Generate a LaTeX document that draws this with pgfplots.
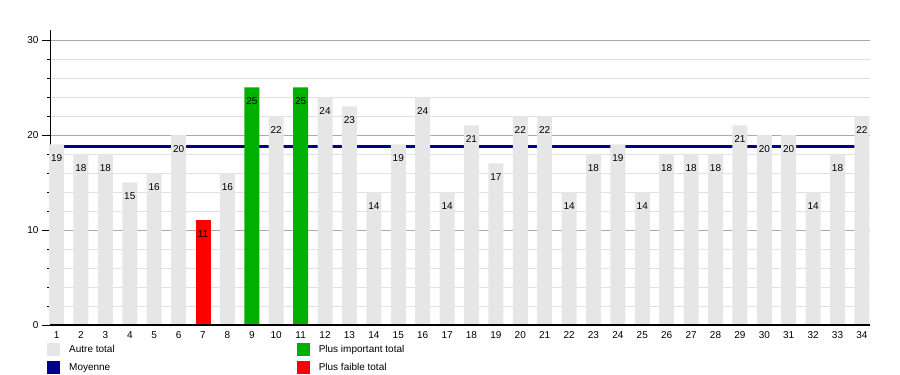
\documentclass[border=0pt]{standalone}
\usepackage{pgfplots}
\pgfplotsset{compat=1.18}
\usepackage{fontspec}
\setmainfont{Liberation Sans}
\definecolor{barGray}{RGB}{230,230,230}
\definecolor{barGreen}{RGB}{0,176,0}
\definecolor{barRed}{RGB}{255,0,0}
\definecolor{navyLine}{RGB}{0,0,140}
\definecolor{majGrid}{RGB}{170,170,170}
\definecolor{minGrid}{RGB}{225,225,225}
\begin{document}
\begin{tikzpicture}[x=1pt,y=1pt]
\useasboundingbox (0,0) rectangle (900,375);
\begin{axis}[
  at={(50pt,50pt)}, anchor=south west,
  scale only axis, width=820pt, height=294.5pt,
  xmin=0.73, xmax=34.33, ymin=0, ymax=31,
  clip=false,
  axis lines=left, axis line style={-},
  x axis line style={line width=1.2pt},
  y axis line style={line width=0.8pt},
  ytick={0,10,20,30}, minor y tick num=4,
  xtick={1,...,34},
  tick align=outside,
  major tick length=8pt, minor tick length=3pt,
  x tick style={draw=none},
  y tick style={black, line width=0.6pt},
  ymajorgrids, yminorgrids,
  major grid style={majGrid, line width=0.8pt},
  minor grid style={minGrid, line width=0.8pt},
  /pgf/number format/assume math mode=true,
  tick label style={font=\fontsize{10}{12}\selectfont},
  xticklabel style={yshift=5pt},
  ybar, bar width=15pt, bar shift=0pt,
  legend columns=2,
  legend cell align=left,
  legend image code/.code={\fill[#1] (0pt,-6.5pt) rectangle (13pt,6.5pt);},
  legend style={at={(-0.0037,-0.061)}, anchor=north west, draw=none, fill=none,
    inner sep=0pt, row sep=5pt,
    nodes={inner sep=0pt, text height=7pt, text depth=2pt, font=\fontsize{10}{12}\selectfont},
    /tikz/every odd column/.append style={column sep=9pt},
    /tikz/every even column/.append style={column sep=182pt}},
  nodes near coords,
  every node near coord/.append style={anchor=center, yshift=-14pt, black, font=\fontsize{10}{12}\selectfont},
]
\addlegendimage{fill=barGray, draw=none}
\addlegendimage{fill=barGreen, draw=none}
\addlegendimage{fill=navyLine, draw=none}
\addlegendimage{fill=barRed, draw=none}
\legend{Autre total, Plus important total, Moyenne, Plus faible total}

\addplot[sharp plot, navyLine, line width=3.3pt, nodes near coords={}, forget plot] coordinates {(1,18.79) (34,18.79)};

\addplot[fill=barGray, draw=none, forget plot] coordinates {
(1,19) (2,18) (3,18) (4,15) (5,16) (6,20) (8,16) (10,22) (12,24) (13,23)
(14,14) (15,19) (16,24) (17,14) (18,21) (19,17) (20,22) (21,22) (22,14) (23,18)
(24,19) (25,14) (26,18) (27,18) (28,18) (29,21) (30,20) (31,20) (32,14) (33,18) (34,22)};
\addplot[fill=barGreen, draw=none, forget plot] coordinates {(9,25) (11,25)};
\addplot[fill=barRed, draw=none, forget plot] coordinates {(7,11)};
\addplot[sharp plot, black, line width=1.2pt, nodes near coords={}, forget plot] coordinates {(0.73,0) (34.33,0)};
\end{axis}
\end{tikzpicture}
\end{document}
